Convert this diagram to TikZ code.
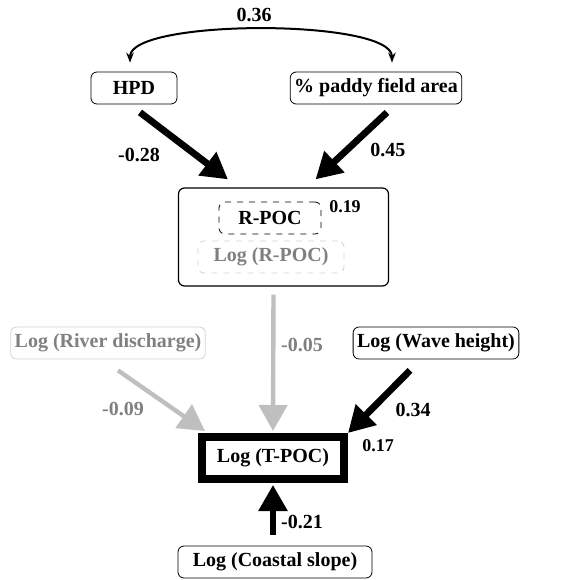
\documentclass[tikz,border=0pt]{standalone}
\usepackage{fontspec}
\setmainfont{Liberation Serif}[BoldFont={Liberation Serif Bold}]
\usetikzlibrary{arrows.meta}
\tikzstyle{var} = [rectangle, draw, rounded corners=3pt, font=\rmfamily\bfseries, minimum height=16pt, inner sep=2pt]
\tikzstyle{faint} = [var, draw=gray!35, text=gray]
\tikzstyle{coef} = [font=\rmfamily\bfseries]
\tikzset{strong/.style = {
    line width=3.4pt,
    -{Triangle[length=13pt,width=14pt]},
  },
  weak/.style = {
    strong, draw=gray!50, line width=2.2pt,
  }
}

\begin{document}
\begin{tikzpicture}[x=0.5pt,y=-0.5pt]
            \useasboundingbox (0,0) rectangle (564,580);
            % vertices
            \node[var, minimum width=43pt] (hpd) at (134,88) {HPD};
            \node[var, minimum width=78pt] (paddy) at (376,88) {\% paddy field area};
            \node[var, line width=0.6pt, minimum width=105pt, minimum height=49pt] (rpocbox) at (283.5,237) {};
            \node[var, dashed, minimum width=51pt] (rpoc) at (270,218) {R-POC};
            \node[faint, dashed, minimum width=73pt] (logrpoc) at (271,257) {Log (R-POC)};
            \node[faint, minimum width=96pt] (river) at (108,343) {Log (River discharge)};
            \node[var, minimum width=78pt] (wave) at (436,343) {Log (Wave height)};
            \node[var, sharp corners, line width=4pt, minimum width=71pt, minimum height=21pt] (tpoc) at (273,458) {Log (T-POC)};
            \node[var, minimum width=97pt] (coast) at (275,562) {Log (Coastal slope)};

            % paths
            \draw[line width=1pt, {Stealth[length=5pt]}-{Stealth[length=5pt]}] ([xshift=-2pt,yshift=4.5pt]hpd.north)
                .. controls +(0,22pt) and +(0,22pt) .. ([xshift=8pt,yshift=4.5pt]paddy.north);
            \draw[strong] ([xshift=3pt,yshift=-4pt]hpd.south) -- ([xshift=-27.75pt,yshift=4pt]rpocbox.north);
            \draw[strong] ([xshift=5.5pt,yshift=-4pt]paddy.south) -- ([xshift=16pt,yshift=4pt]rpocbox.north);
            \draw[weak] ([xshift=-5pt,yshift=-4pt]rpocbox.south) -- ([yshift=1pt]tpoc.north);
            \draw[weak] ([xshift=5pt,yshift=-5.5pt]river.south) -- ([xshift=3.5pt,yshift=1pt]tpoc.north west);
            \draw[strong] ([xshift=-13pt,yshift=-5.5pt]wave.south) -- (tpoc.north east);
            \draw[strong, line width=2.8pt] ([xshift=-1pt,yshift=5.5pt]coast.north) -- ([yshift=-1pt]tpoc.south);

            % coefficients
            \node[coef] (c1) at (254,15) {0.36};
            \node[coef] (c2) at (139,155) {-0.28};
            \node[coef] (c3) at (388,150) {0.45};
            \node[coef, font=\rmfamily\bfseries\small] (c4) at (345,207) {0.19};
            \node[coef, text=gray] (c5) at (302,345) {-0.05};
            \node[coef, text=gray] (c6) at (123,409) {-0.09};
            \node[coef] (c7) at (413,410) {0.34};
            \node[coef, font=\rmfamily\bfseries\small] (c8) at (378,446) {0.17};
            \node[coef] (c9) at (302,522) {-0.21};
\end{tikzpicture}
\end{document}
